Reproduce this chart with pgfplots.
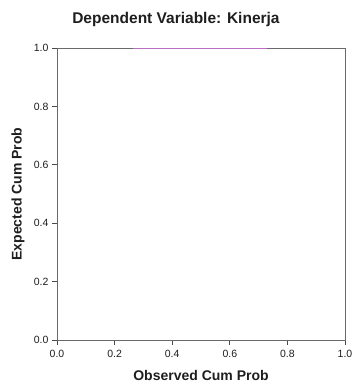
\documentclass[border=0pt]{standalone}
\usepackage{pgfplots}
\pgfplotsset{compat=1.18}
\usepackage{fontspec}
\setmainfont{Liberation Sans}
\definecolor{frame}{HTML}{6A6A6A}
\definecolor{ink}{HTML}{1E1E1E}
\definecolor{fitline}{HTML}{D070D8}
\begin{document}
\begin{tikzpicture}
\begin{axis}[
  name=ax,
  scale only axis,
  width=288pt, height=292pt,
  xmin=0, xmax=1, ymin=0, ymax=1,
  xtick={0,0.2,...,1.0}, ytick={0,0.2,...,1.0},
  tick label style={font=\fontsize{10.5}{12}\selectfont, text=ink},
  /pgf/number format/assume math mode=true,
  /pgf/number format/.cd, fixed, fixed zerofill, precision=1,
  /pgfplots/.cd,
  tick align=outside, tickwidth=5pt,
  xtick pos=bottom, ytick pos=left,
  xticklabel style={yshift=-2pt},
  axis line style={frame, line width=0.6pt},
  major tick style={frame!70!black, line width=0.9pt},
  title={\textbf{Dependent Variable: Kinerja}},
  title style={font=\fontsize{15.5}{18}\selectfont, text=ink, at={(0.5,1)}, anchor=base, yshift=18pt, xshift=-25pt},
  xlabel={\textbf{Observed Cum Prob}},
  ylabel={\textbf{Expected Cum Prob}},
  label style={font=\fontsize{14}{16}\selectfont, text=ink},
  xlabel style={at={(axis description cs:0.5,-0.123)}, anchor=center},
  ylabel style={at={(axis description cs:-0.135,0.5)}, anchor=center},
]
  % faint fitted segment along the upper edge
  \addplot[fitline, line width=0.8pt, opacity=0.8] coordinates {(0.264,1.0) (0.73,1.0)};
\end{axis}
\pgfresetboundingbox
\path[use as bounding box] ([xshift=-57pt,yshift=-48pt]ax.south west) rectangle ([xshift=8pt,yshift=48pt]ax.north east);
\end{tikzpicture}
\end{document}
